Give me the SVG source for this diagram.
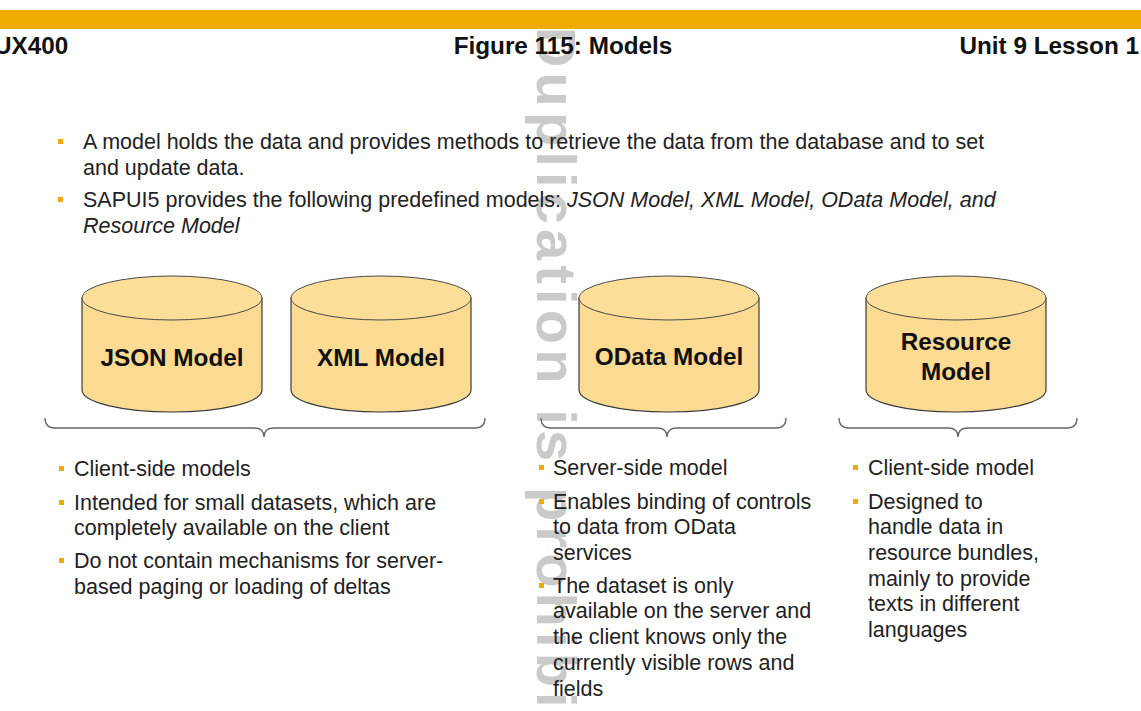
<svg xmlns="http://www.w3.org/2000/svg" width="1141" height="711" viewBox="0 0 1141 711">
<style>
.hdr{font-family:"Liberation Sans",Arial,sans-serif;font-weight:bold;font-size:24.3px;fill:#111}
.body{font-family:"Liberation Sans",Arial,sans-serif;font-size:21.5px;fill:#222}
.lbl{font-family:"Liberation Sans",Arial,sans-serif;font-weight:bold;font-size:24.3px;fill:#111;text-anchor:middle}
.cyl{fill:#FBDA92;stroke:#3a3a3a;stroke-width:1.2}
.top{fill:#FCDE99;stroke:#4a4a4a;stroke-width:1}
.brace{fill:none;stroke:#666;stroke-width:1.3}
.wm{font-family:"Liberation Sans",Arial,sans-serif;font-weight:bold;font-size:56px;fill:#cacaca}
</style>
<defs>
<rect id="b" width="5" height="5" fill="#F0AB00"/>
</defs>
<rect width="1141" height="711" fill="#ffffff"/>
<text class="wm" transform="translate(537,27) rotate(90)" textLength="780" lengthAdjust="spacing">Duplication is prohibited</text>
<rect x="0" y="10" width="1141" height="19" fill="#F0AB00"/>
<g id="header">
<text class="hdr" x="-6" y="54">UX400</text>
<text class="hdr" x="563" y="54" text-anchor="middle">Figure 115: Models</text>
<text class="hdr" x="1139" y="54" text-anchor="end">Unit 9 Lesson 1</text>
</g>
<g id="intro">
<use href="#b" x="58" y="139"/>
<text class="body" x="83" y="149">A model holds the data and provides methods to retrieve the data from the database and to set</text>
<text class="body" x="83" y="175">and update data.</text>
<use href="#b" x="58" y="197"/>
<text class="body" x="83" y="207">SAPUI5 provides the following predefined models: <tspan font-style="italic">JSON Model, XML Model, OData Model, and</tspan></text>
<text class="body" x="83" y="233" font-style="italic">Resource Model</text>
</g>
<g id="json-model">
<path class="cyl" d="M82,298 L82,390 A90,22 0 0 0 262,390 L262,298 Z"/>
<ellipse class="top" cx="172" cy="298" rx="90" ry="22"/>
<text class="lbl" x="172" y="366">JSON Model</text>
</g>
<g id="xml-model">
<path class="cyl" d="M291,298 L291,390 A90,22 0 0 0 471,390 L471,298 Z"/>
<ellipse class="top" cx="381" cy="298" rx="90" ry="22"/>
<text class="lbl" x="381" y="366">XML Model</text>
</g>
<g id="odata-model">
<path class="cyl" d="M579,298 L579,390 A90,22 0 0 0 759,390 L759,298 Z"/>
<ellipse class="top" cx="669" cy="298" rx="90" ry="22"/>
<text class="lbl" x="669" y="365">OData Model</text>
</g>
<g id="resource-model">
<path class="cyl" d="M866,298 L866,390 A90,22 0 0 0 1046,390 L1046,298 Z"/>
<ellipse class="top" cx="956" cy="298" rx="90" ry="22"/>
<text class="lbl" x="956" y="350">Resource</text>
<text class="lbl" x="956" y="380">Model</text>
</g>
<g id="connectors">
<path class="brace" d="M45,418 Q45,428 55,428 L254,428 Q264,428 264,437 Q264,428 274,428 L475,428 Q485,428 485,418"/>
<path class="brace" d="M541,418 Q541,428 551,428 L657,428 Q667,428 667,437 Q667,428 677,428 L776,428 Q786,428 786,418"/>
<path class="brace" d="M839,418 Q839,428 849,428 L948,428 Q958,428 958,437 Q958,428 968,428 L1067,428 Q1077,428 1077,418"/>
</g>
<g id="client-models-notes">
<use href="#b" x="59" y="466"/>
<text class="body" x="74" y="476">Client-side models</text>
<use href="#b" x="59" y="500"/>
<text class="body" x="74" y="510">Intended for small datasets, which are</text>
<text class="body" x="74" y="535">completely available on the client</text>
<use href="#b" x="59" y="558"/>
<text class="body" x="74" y="568">Do not contain mechanisms for server-</text>
<text class="body" x="74" y="594">based paging or loading of deltas</text>
</g>
<g id="odata-notes">
<use href="#b" x="539" y="465"/>
<text class="body" x="553" y="475">Server-side model</text>
<use href="#b" x="539" y="499"/>
<text class="body" x="553" y="509">Enables binding of controls</text>
<text class="body" x="553" y="534">to data from OData</text>
<text class="body" x="553" y="560">services</text>
<use href="#b" x="539" y="583"/>
<text class="body" x="553" y="593">The dataset is only</text>
<text class="body" x="553" y="618">available on the server and</text>
<text class="body" x="553" y="644">the client knows only the</text>
<text class="body" x="553" y="670">currently visible rows and</text>
<text class="body" x="553" y="696">fields</text>
</g>
<g id="resource-notes">
<use href="#b" x="853" y="465"/>
<text class="body" x="868" y="475">Client-side model</text>
<use href="#b" x="853" y="499"/>
<text class="body" x="868" y="509">Designed to</text>
<text class="body" x="868" y="534">handle data in</text>
<text class="body" x="868" y="560">resource bundles,</text>
<text class="body" x="868" y="586">mainly to provide</text>
<text class="body" x="868" y="611">texts in different</text>
<text class="body" x="868" y="637">languages</text>
</g>
</svg>
